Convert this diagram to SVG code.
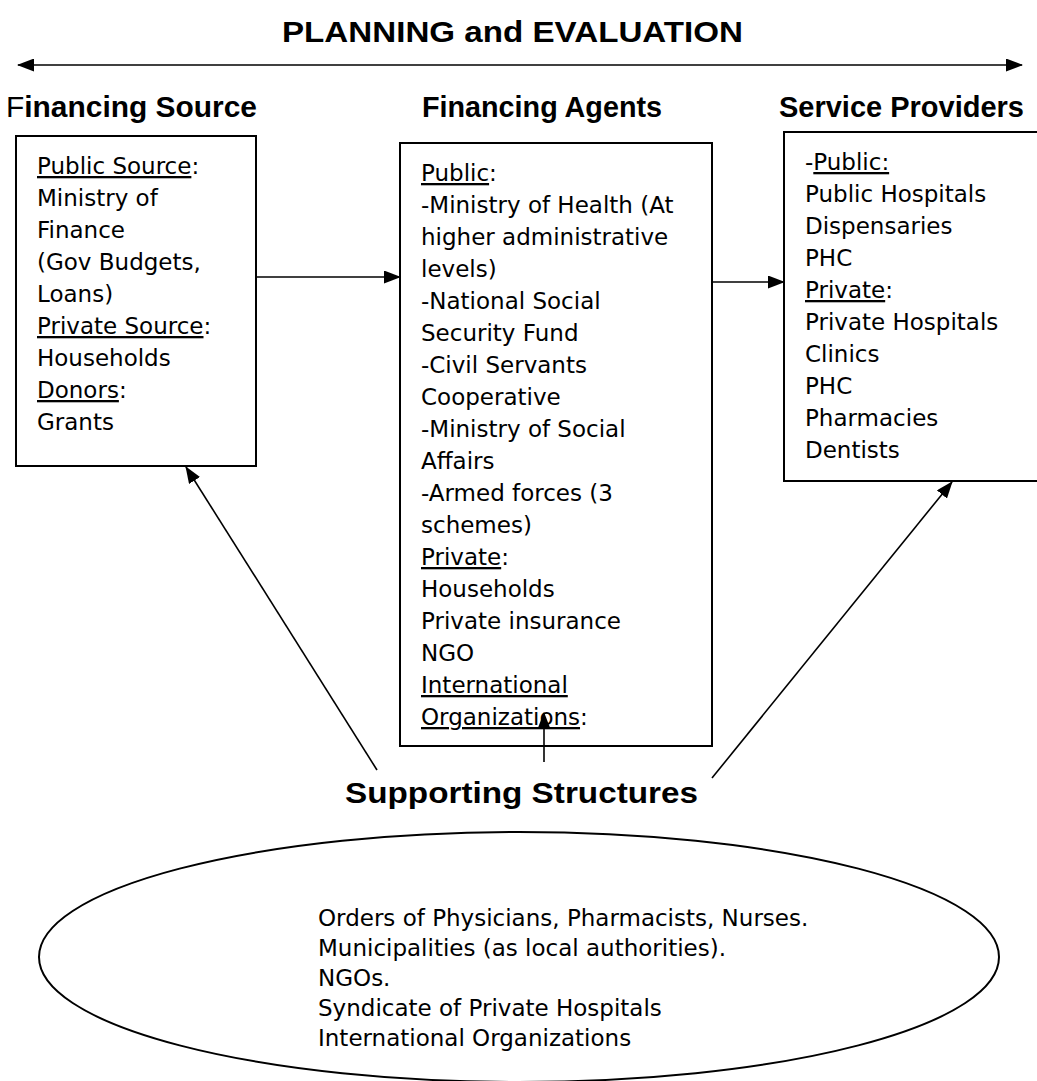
<svg xmlns="http://www.w3.org/2000/svg" width="1037" height="1081" viewBox="0 0 1037 1081">
<style>
.hd{font-family:"Liberation Sans",Arial,sans-serif;font-weight:bold;font-size:30px;fill:#000}
.tx{font-family:"DejaVu Sans",Verdana,sans-serif;font-size:23px;fill:#000}
.u{text-decoration:underline}
.box{fill:#fff;stroke:#000;stroke-width:2}
.ln{fill:none;stroke:#000;stroke-width:1.6}
</style>
<defs>
<marker id="ah" viewBox="0 0 17 13" refX="16" refY="6.5" markerWidth="17" markerHeight="13" orient="auto-start-reverse" markerUnits="userSpaceOnUse">
<path d="M0,0 L17,6.5 L0,13 z" fill="#000"/>
</marker>
</defs>
<rect width="1037" height="1081" fill="#fff"/>

<g id="title">
<text class="hd" x="282" y="42" textLength="461" lengthAdjust="spacingAndGlyphs">PLANNING and EVALUATION</text>
</g>
<g id="headers">
<text class="hd" x="6" y="117" textLength="251" lengthAdjust="spacingAndGlyphs"><tspan font-weight="normal">F</tspan>inancing Source</text>
<text class="hd" x="422" y="117" textLength="240" lengthAdjust="spacingAndGlyphs">Financing Agents</text>
<text class="hd" x="779" y="117" textLength="245" lengthAdjust="spacingAndGlyphs">Service Providers</text>
</g>

<g id="financing-source">
<rect class="box" x="16" y="136" width="240" height="330"/>
<text class="tx">
<tspan x="37" y="174"><tspan class="u">Public Source</tspan>:</tspan>
<tspan x="37" dy="32">Ministry of</tspan>
<tspan x="37" dy="32">Finance</tspan>
<tspan x="37" dy="32">(Gov Budgets,</tspan>
<tspan x="37" dy="32">Loans)</tspan>
<tspan x="37" dy="32"><tspan class="u">Private Source</tspan>:</tspan>
<tspan x="37" dy="32">Households</tspan>
<tspan x="37" dy="32"><tspan class="u">Donors</tspan>:</tspan>
<tspan x="37" dy="32">Grants</tspan>
</text>
</g>

<g id="financing-agents">
<rect class="box" x="400" y="143" width="312" height="603"/>
<text class="tx">
<tspan x="421" y="181"><tspan class="u">Public</tspan>:</tspan>
<tspan x="421" dy="32">-Ministry of Health (At</tspan>
<tspan x="421" dy="32">higher administrative</tspan>
<tspan x="421" dy="32">levels)</tspan>
<tspan x="421" dy="32">-National Social</tspan>
<tspan x="421" dy="32">Security Fund</tspan>
<tspan x="421" dy="32">-Civil Servants</tspan>
<tspan x="421" dy="32">Cooperative</tspan>
<tspan x="421" dy="32">-Ministry of Social</tspan>
<tspan x="421" dy="32">Affairs</tspan>
<tspan x="421" dy="32">-Armed forces (3</tspan>
<tspan x="421" dy="32">schemes)</tspan>
<tspan x="421" dy="32"><tspan class="u">Private</tspan>:</tspan>
<tspan x="421" dy="32">Households</tspan>
<tspan x="421" dy="32">Private insurance</tspan>
<tspan x="421" dy="32">NGO</tspan>
<tspan x="421" dy="32" class="u">International</tspan>
<tspan x="421" dy="32"><tspan class="u">Organizations</tspan>:</tspan>
</text>
</g>

<g id="service-providers">
<rect class="box" x="784" y="132" width="270" height="349"/>
<text class="tx">
<tspan x="805" y="170">-<tspan class="u">Public:</tspan></tspan>
<tspan x="805" dy="32">Public Hospitals</tspan>
<tspan x="805" dy="32">Dispensaries</tspan>
<tspan x="805" dy="32">PHC</tspan>
<tspan x="805" dy="32"><tspan class="u">Private</tspan>:</tspan>
<tspan x="805" dy="32">Private Hospitals</tspan>
<tspan x="805" dy="32">Clinics</tspan>
<tspan x="805" dy="32">PHC</tspan>
<tspan x="805" dy="32">Pharmacies</tspan>
<tspan x="805" dy="32">Dentists</tspan>
</text>
</g>

<g id="supporting-structures">
<text class="hd" x="345" y="803" textLength="353" lengthAdjust="spacingAndGlyphs">Supporting Structures</text>
<ellipse cx="519" cy="957" rx="480" ry="125" fill="#fff" stroke="#000" stroke-width="2"/>
<text class="tx">
<tspan x="318" y="926">Orders of Physicians, Pharmacists, Nurses.</tspan>
<tspan x="318" dy="30">Municipalities (as local authorities).</tspan>
<tspan x="318" dy="30">NGOs.</tspan>
<tspan x="318" dy="30">Syndicate of Private Hospitals</tspan>
<tspan x="318" dy="30">International Organizations</tspan>
</text>
</g>

<g id="connectors">
<line class="ln" x1="18" y1="65" x2="1022" y2="65" stroke-width="2.4" marker-start="url(#ah)" marker-end="url(#ah)"/>
<line class="ln" x1="256" y1="277" x2="400" y2="277" marker-end="url(#ah)"/>
<line class="ln" x1="712" y1="282" x2="784" y2="282" marker-end="url(#ah)"/>
<line class="ln" x1="377" y1="770" x2="186" y2="467" marker-end="url(#ah)"/>
<line class="ln" x1="544" y1="762" x2="544" y2="713" marker-end="url(#ah)"/>
<line class="ln" x1="712" y1="778" x2="952" y2="482" marker-end="url(#ah)"/>
</g>
</svg>
